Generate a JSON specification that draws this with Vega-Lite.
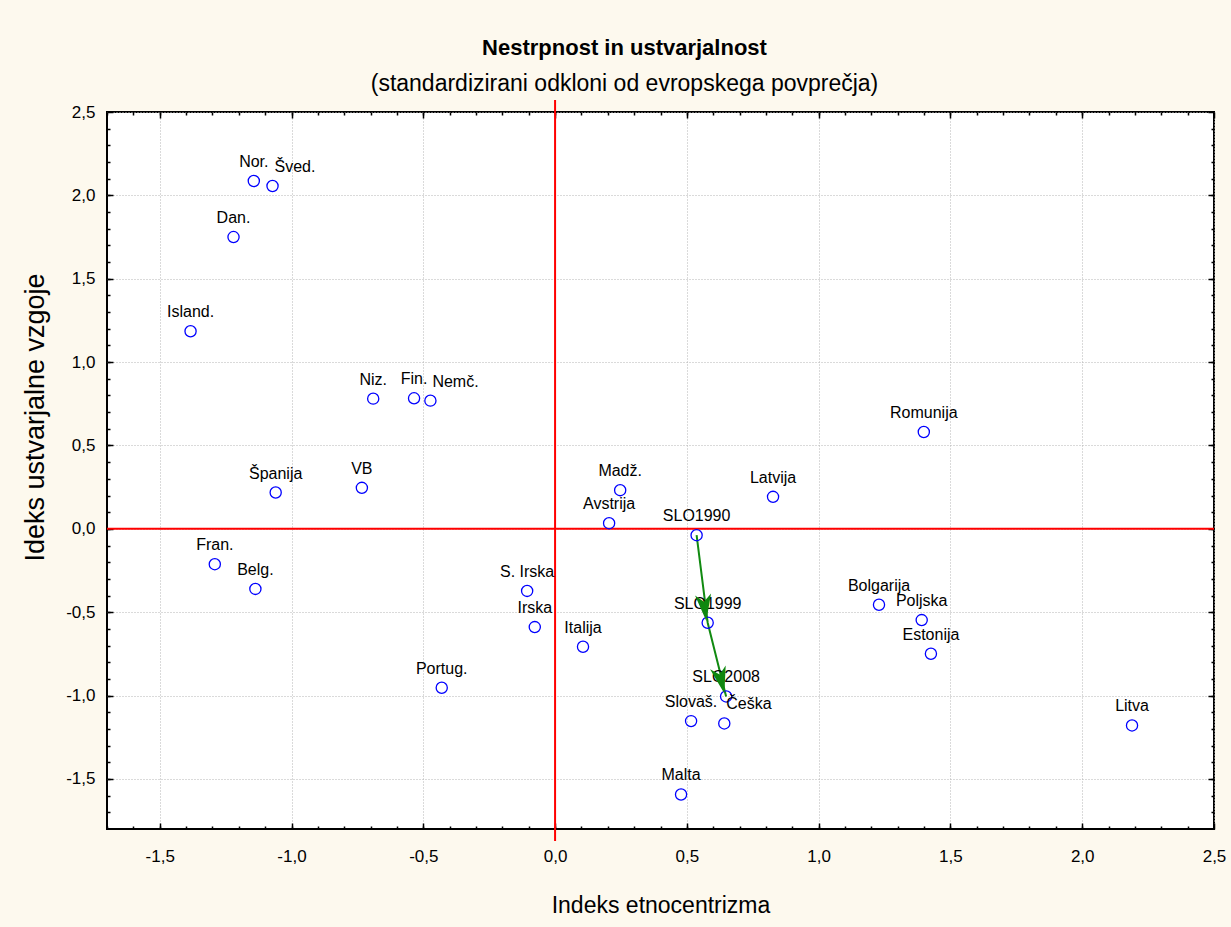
{
  "$schema": "https://vega.github.io/schema/vega-lite/v6.json",
  "width": 1107,
  "height": 717,
  "autosize": {"type": "none"},
  "padding": {"left": 107, "top": 112, "right": 17, "bottom": 98},
  "background": "#fdf9ee",
  "config": {
    "view": {"fill": "white", "stroke": "black", "strokeWidth": 2},
    "locale": {"number": {"decimal": ",", "thousands": ".", "grouping": [3], "currency": ["", " €"], "minus": "-"}},
    "font": "Liberation Sans",
    "axis": {"domain": false, "labelFont": "Liberation Sans", "titleFont": "Liberation Sans", "labelColor": "black", "titleColor": "black", "tickColor": "black", "tickWidth": 1.5, "titleFontWeight": "normal"}
  },
  "title": {
    "text": "Nestrpnost in ustvarjalnost",
    "subtitle": "(standardizirani odkloni od evropskega povprečja)",
    "anchor": "middle",
    "frame": "group",
    "font": "Liberation Sans",
    "fontSize": 22,
    "fontWeight": "bold",
    "color": "black",
    "subtitleFont": "Liberation Sans",
    "subtitleFontSize": 23,
    "subtitleColor": "black",
    "offset": 2,
    "subtitlePadding": 13,
    "dx": -36
  },
  "data": {"values": [
    {"name": "Nor.", "x": -1.143, "y": 2.086},
    {"name": "Šved.", "x": -1.072, "y": 2.056},
    {"name": "Dan.", "x": -1.220, "y": 1.750},
    {"name": "Island.", "x": -1.383, "y": 1.185},
    {"name": "Niz.", "x": -0.690, "y": 0.781},
    {"name": "Fin.", "x": -0.535, "y": 0.783},
    {"name": "Nemč.", "x": -0.473, "y": 0.769},
    {"name": "Romunija", "x": 1.399, "y": 0.581},
    {"name": "Španija", "x": -1.060, "y": 0.218},
    {"name": "VB", "x": -0.733, "y": 0.246},
    {"name": "Madž.", "x": 0.247, "y": 0.232},
    {"name": "Latvija", "x": 0.827, "y": 0.192},
    {"name": "Avstrija", "x": 0.205, "y": 0.034},
    {"name": "SLO1990", "x": 0.537, "y": -0.038},
    {"name": "Fran.", "x": -1.291, "y": -0.212},
    {"name": "Belg.", "x": -1.137, "y": -0.360},
    {"name": "S. Irska", "x": -0.106, "y": -0.372},
    {"name": "Irska", "x": -0.077, "y": -0.589},
    {"name": "SLO1999", "x": 0.579, "y": -0.563},
    {"name": "Bolgarija", "x": 1.229, "y": -0.455},
    {"name": "Poljska", "x": 1.391, "y": -0.547},
    {"name": "Estonija", "x": 1.426, "y": -0.749},
    {"name": "Italija", "x": 0.106, "y": -0.707},
    {"name": "Portug.", "x": -0.430, "y": -0.953},
    {"name": "SLO2008", "x": 0.649, "y": -1.005},
    {"name": "Slovaš.", "x": 0.516, "y": -1.153},
    {"name": "Češka", "x": 0.642, "y": -1.167},
    {"name": "Litva", "x": 2.189, "y": -1.179},
    {"name": "Malta", "x": 0.478, "y": -1.593}
  ]},
  "resolve": {"axis": {"x": "independent", "y": "independent"}},
  "layer": [
    {
      "data": {"values": [{}]},
      "mark": {"type": "rule", "color": "#ff0000", "strokeWidth": 2},
      "encoding": {
        "y": {"datum": 0, "type": "quantitative", "axis": null}
      }
    },
    {
      "data": {"values": [{}]},
      "mark": {"type": "rule", "color": "#ff0000", "strokeWidth": 2},
      "encoding": {
        "x": {"datum": 0, "type": "quantitative", "axis": null},
        "y": {"datum": 2.572, "type": "quantitative", "axis": null},
        "y2": {"datum": -1.872}
      }
    },
    {
      "transform": [{"filter": "indexof(datum.name, 'SLO') === 0"}],
      "mark": {"type": "line", "color": "#118a11", "strokeWidth": 2},
      "encoding": {
        "x": {"field": "x", "type": "quantitative", "axis": null},
        "y": {"field": "y", "type": "quantitative", "axis": null}
      }
    },
    {
      "mark": {"type": "point", "shape": "circle", "filled": false, "stroke": "#0000ff", "strokeWidth": 1.3, "size": 125, "opacity": 1},
      "encoding": {
        "x": {
          "field": "x", "type": "quantitative",
          "scale": {"domain": [-1.7, 2.5], "nice": false, "zero": false},
          "axis": {
            "orient": "bottom",
            "values": [-1.5, -1, -0.5, 0, 0.5, 1, 1.5, 2, 2.5],
            "format": ".1f",
            "labelFontSize": 17,
            "labelPadding": 19,
            "labelFlush": false,
            "labelOverlap": false,
            "ticks": false,
            "grid": true,
            "gridColor": "#b4b4b4",
            "gridDash": [1, 2],
            "gridWidth": 1,
            "title": "Indeks etnocentrizma",
            "titleFontSize": 23,
            "titleBaseline": "alphabetic",
            "titleY": 83
          }
        },
        "y": {
          "field": "y", "type": "quantitative",
          "scale": {"domain": [-1.8, 2.5], "nice": false, "zero": false},
          "axis": {
            "orient": "left",
            "values": [-1.5, -1, -0.5, 0, 0.5, 1, 1.5, 2, 2.5],
            "format": ".1f",
            "labelFontSize": 17,
            "labelPadding": 12,
            "labelFlush": false,
            "labelOverlap": false,
            "ticks": false,
            "grid": true,
            "gridColor": "#b4b4b4",
            "gridDash": [1, 2],
            "gridWidth": 1,
            "title": "Ideks ustvarjalne vzgoje",
            "titleFontSize": 27,
            "titleBaseline": "alphabetic",
            "titleAlign": "center",
            "titleX": -64,
            "titleY": 305
          }
        }
      }
    },
    {
      "transform": [{"filter": "indexof(['Šved.', 'Nemč.', 'Češka'], datum.name) < 0"}],
      "mark": {"type": "text", "align": "center", "baseline": "alphabetic", "dy": -14, "fontSize": 16, "font": "Liberation Sans", "color": "black"},
      "encoding": {
        "x": {"field": "x", "type": "quantitative",
          "axis": {"orient": "top", "values": [-1.5, -1, -0.5, 0, 0.5, 1, 1.5, 2, 2.5], "ticks": true, "tickSize": -6, "labels": false, "grid": false, "title": null, "domain": false}},
        "y": {"field": "y", "type": "quantitative",
          "axis": {"orient": "right", "values": [-1.5, -1, -0.5, 0, 0.5, 1, 1.5, 2, 2.5], "ticks": true, "tickSize": -6, "labels": false, "grid": false, "title": null, "domain": false}},
        "text": {"field": "name"}
      }
    },
    {
      "transform": [{"filter": "indexof(['Šved.', 'Nemč.', 'Češka'], datum.name) >= 0"}],
      "mark": {"type": "text", "align": "left", "baseline": "alphabetic", "dx": 2, "dy": -14, "fontSize": 16, "font": "Liberation Sans", "color": "black"},
      "encoding": {
        "x": {"field": "x", "type": "quantitative",
          "axis": {"orient": "bottom", "values": [-1.5, -1, -0.5, 0, 0.5, 1, 1.5, 2, 2.5], "ticks": true, "tickSize": -6, "labels": false, "grid": false, "title": null, "domain": false}},
        "y": {"field": "y", "type": "quantitative",
          "axis": {"orient": "left", "values": [-1.5, -1, -0.5, 0, 0.5, 1, 1.5, 2, 2.5], "ticks": true, "tickSize": -6, "labels": false, "grid": false, "title": null, "domain": false}},
        "text": {"field": "name"}
      }
    },
    {
      "transform": [{"filter": "datum.name === 'SLO1999'"}],
      "mark": {"type": "point", "shape": "M0,1L-0.6,-1L0,-0.45L0.6,-1Z", "filled": true, "color": "#0f870f", "strokeWidth": 0, "size": 720, "angle": 353, "xOffset": -3, "yOffset": -15, "opacity": 1},
      "encoding": {
        "x": {"field": "x", "type": "quantitative",
          "axis": {"orient": "top", "values": [-1.7, -1.6, -1.5, -1.4, -1.3, -1.2, -1.1, -1.0, -0.9, -0.8, -0.7, -0.6, -0.5, -0.4, -0.3, -0.2, -0.1, 0, 0.1, 0.2, 0.3, 0.4, 0.5, 0.6, 0.7, 0.8, 0.9, 1.0, 1.1, 1.2, 1.3, 1.4, 1.5, 1.6, 1.7, 1.8, 1.9, 2.0, 2.1, 2.2, 2.3, 2.4], "ticks": true, "tickSize": -3, "labels": false, "grid": false, "title": null, "domain": false}},
        "y": {"field": "y", "type": "quantitative",
          "axis": {"orient": "right", "values": [-1.7, -1.6, -1.5, -1.4, -1.3, -1.2, -1.1, -1.0, -0.9, -0.8, -0.7, -0.6, -0.5, -0.4, -0.3, -0.2, -0.1, 0, 0.1, 0.2, 0.3, 0.4, 0.5, 0.6, 0.7, 0.8, 0.9, 1.0, 1.1, 1.2, 1.3, 1.4, 1.5, 1.6, 1.7, 1.8, 1.9, 2.0, 2.1, 2.2, 2.3, 2.4], "ticks": true, "tickSize": -3, "labels": false, "grid": false, "title": null, "domain": false}}
      }
    },
    {
      "transform": [{"filter": "datum.name === 'SLO2008'"}],
      "mark": {"type": "point", "shape": "M0,1L-0.6,-1L0,-0.45L0.6,-1Z", "filled": true, "color": "#0f870f", "strokeWidth": 0, "size": 720, "angle": 346, "xOffset": -5, "yOffset": -16, "opacity": 1},
      "encoding": {
        "x": {"field": "x", "type": "quantitative",
          "axis": {"orient": "bottom", "values": [-1.7, -1.6, -1.5, -1.4, -1.3, -1.2, -1.1, -1.0, -0.9, -0.8, -0.7, -0.6, -0.5, -0.4, -0.3, -0.2, -0.1, 0, 0.1, 0.2, 0.3, 0.4, 0.5, 0.6, 0.7, 0.8, 0.9, 1.0, 1.1, 1.2, 1.3, 1.4, 1.5, 1.6, 1.7, 1.8, 1.9, 2.0, 2.1, 2.2, 2.3, 2.4], "ticks": true, "tickSize": -3, "labels": false, "grid": false, "title": null, "domain": false}},
        "y": {"field": "y", "type": "quantitative",
          "axis": {"orient": "left", "values": [-1.7, -1.6, -1.5, -1.4, -1.3, -1.2, -1.1, -1.0, -0.9, -0.8, -0.7, -0.6, -0.5, -0.4, -0.3, -0.2, -0.1, 0, 0.1, 0.2, 0.3, 0.4, 0.5, 0.6, 0.7, 0.8, 0.9, 1.0, 1.1, 1.2, 1.3, 1.4, 1.5, 1.6, 1.7, 1.8, 1.9, 2.0, 2.1, 2.2, 2.3, 2.4], "ticks": true, "tickSize": -3, "labels": false, "grid": false, "title": null, "domain": false}}
      }
    }
  ]
}
